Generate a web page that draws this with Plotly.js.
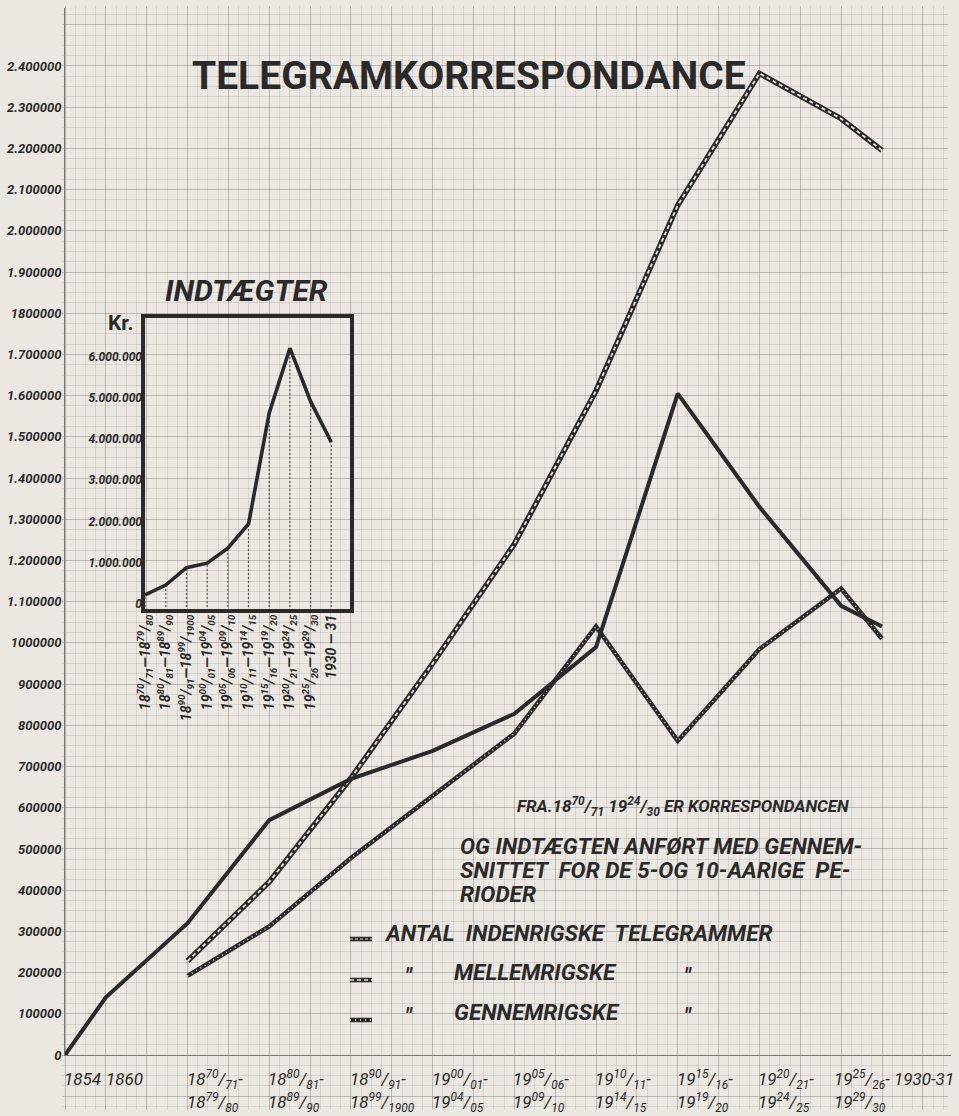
<!DOCTYPE html>
<html><head><meta charset="utf-8">
<script src="https://cdn.plot.ly/plotly-3.0.1.min.js"></script>
<style>html,body{margin:0;padding:0;background:#eae8e1;}</style>
</head><body><div id="chart" style="width:959px;height:1116px;"></div>
<script>
// ---------------- DATA ----------------
const periods = ['1854','1860','1870/71-1879/80','1880/81-1889/90','1890/91-1899/1900','1900/01-1904/05',
  '1905/06-1909/10','1910/11-1914/15','1915/16-1919/20','1920/21-1924/25','1925/26-1929/30','1930-31'];
const indenrigske  = [0, 140000, 320000, 570000, 670000, 738000, 828000, 990000, 1605000, 1330000, 1090000, 1040000];
const mellemrigske = [null, null, 228000, 420000, 672000, 950000, 1240000, 1612000, 2062000, 2382000, 2272000, 2195000];
const gennemrigske = [null, null, 192000, 312000, 478000, 630000, 780000, 1040000, 762000, 985000, 1132000, 1010000];

const xTickTop = ['1854','1860','18<sup>70</sup>/<sub>71</sub>-','18<sup>80</sup>/<sub>81</sub>-','18<sup>90</sup>/<sub>91</sub>-',
  '19<sup>00</sup>/<sub>01</sub>-','19<sup>05</sup>/<sub>06</sub>-','19<sup>10</sup>/<sub>11</sub>-','19<sup>15</sup>/<sub>16</sub>-',
  '19<sup>20</sup>/<sub>21</sub>-','19<sup>25</sup>/<sub>26</sub>-','1930-31'];
const xTickBottom = ['','','18<sup>79</sup>/<sub>80</sub>','18<sup>89</sup>/<sub>90</sub>','18<sup>99</sup>/<sub>1900</sub>',
  '19<sup>04</sup>/<sub>05</sub>','19<sup>09</sup>/<sub>10</sub>','19<sup>14</sup>/<sub>15</sub>','19<sup>19</sup>/<sub>20</sub>',
  '19<sup>24</sup>/<sub>25</sub>','19<sup>29</sup>/<sub>30</sub>',''];

const yTickVals = [0,100000,200000,300000,400000,500000,600000,700000,800000,900000,1000000,1100000,1200000,
  1300000,1400000,1500000,1600000,1700000,1800000,1900000,2000000,2100000,2200000,2300000,2400000];
const yTickText = ['0','100000','200000','300000','400000','500000','600000','700000','800000','900000','1000000',
  '1.100000','1.200000','1.300000','1.400000','1.500000','1.600000','1.700000','1800000','1.900000','2.000000',
  '2.100000','2.200000','2.300000','2.400000'];

const incomeLabels = ['18<sup>70</sup>/<sub>71</sub>—18<sup>79</sup>/<sub>80</sub>','18<sup>80</sup>/<sub>81</sub>—18<sup>89</sup>/<sub>90</sub>',
  '18<sup>90</sup>/<sub>91</sub>—18<sup>99</sup>/<sub>1900</sub>','19<sup>00</sup>/<sub>01</sub>—19<sup>04</sup>/<sub>05</sub>',
  '19<sup>05</sup>/<sub>06</sub>—19<sup>09</sup>/<sub>10</sub>','19<sup>10</sup>/<sub>11</sub>—19<sup>14</sup>/<sub>15</sub>',
  '19<sup>15</sup>/<sub>16</sub>—19<sup>19</sup>/<sub>20</sub>','19<sup>20</sup>/<sub>21</sub>—19<sup>24</sup>/<sub>25</sub>',
  '19<sup>25</sup>/<sub>26</sub>—19<sup>29</sup>/<sub>30</sub>','1930 — 31'];
const incomeKr = [220000, 460000, 880000, 990000, 1350000, 1940000, 4630000, 6200000, 4910000, 3920000];
const incomeTickVals = [0,1000000,2000000,3000000,4000000,5000000,6000000];
const incomeTickText = ['0','1.000.000','2.000.000','3.000.000','4.000.000','5.000.000','6.000.000'];

const noteLines = ['FRA.18<sup>70</sup>/<sub>71</sub> 19<sup>24</sup>/<sub>30</sub> ER KORRESPONDANCEN',
  'OG INDTÆGTEN ANFØRT MED GENNEM-','SNITTET  FOR DE 5-OG 10-AARIGE  PE-','RIODER'];
const legendNames = ['ANTAL  INDENRIGSKE  TELEGRAMMER','MELLEMRIGSKE','GENNEMRIGSKE'];

// ---------------- LAYOUT HELPERS ----------------
const W = 959, H = 1116;
const px = x => x / W;
const py = y => 1 - y / H;
const INK = '#2a2a2a', PAPER = '#eae8e1';
const HAND = 'Roboto, Liberation Sans, sans-serif';
// horizontal slot of each period on the main axis (1854 and 1930-31 are half steps)
const xSlot = [0, 0.5, 1.5, 2.5, 3.5, 4.5, 5.5, 6.5, 7.5, 8.5, 9.5, 10];
const UNIT_X = 81.7;          // px per period slot
const PX_PER_100K = 41.21;    // px per 100000 on main y axis
const plotL = 65, plotR = 951, plotT = 8, plotB = 1055;

const traces = [];
traces.push({x:[0], y:[0], xaxis:'x', yaxis:'y', mode:'markers', marker:{opacity:0}, hoverinfo:'skip', showlegend:false});

function addLine(vals, base, overlay){
  const xs = [], ys = [];
  vals.forEach((v,i)=>{ if(v!==null){ xs.push(xSlot[i]); ys.push(v);} });
  traces.push({x:xs, y:ys, xaxis:'x2', yaxis:'y2', mode:'lines', line:base, hoverinfo:'skip', showlegend:false});
  if(overlay) traces.push({x:xs, y:ys, xaxis:'x2', yaxis:'y2', mode:'lines', line:overlay, hoverinfo:'skip', showlegend:false});
}
addLine(gennemrigske, {color:INK, width:4.5}, {color:'#eeece6', width:1.4, dash:'1px,4px'});
addLine(mellemrigske, {color:INK, width:5.5}, {color:'#e6e4dd', width:1.8, dash:'4px,3px'});
addLine(indenrigske, {color:INK, width:4});

// inset: revenue
const incX = incomeKr.map((v,i)=>i);
const INC_MIN = -170000;
const vx = [], vy = [];
incomeKr.forEach((v,i)=>{ vx.push(i,i,null); vy.push(INC_MIN, v, null); });
traces.push({x:vx, y:vy, xaxis:'x3', yaxis:'y3', mode:'lines', line:{color:'#555', width:1.2, dash:'2px,2px'}, hoverinfo:'skip', showlegend:false});
traces.push({x:incX, y:incomeKr, xaxis:'x3', yaxis:'y3', mode:'lines', line:{color:INK, width:3.6}, hoverinfo:'skip', showlegend:false});

// ---------------- ANNOTATIONS ----------------
const ann = [];
ann.push({text:'TELEGRAMKORRESPONDANCE', xref:'paper', yref:'paper', x:px(469), y:py(76), showarrow:false,
  xanchor:'center', yanchor:'middle', font:{family:'Roboto, Liberation Sans, sans-serif', size:39, color:INK, weight:'bold'}});
ann.push({text:'INDTÆGTER', xref:'paper', yref:'paper', x:px(246), y:py(290), showarrow:false,
  xanchor:'center', yanchor:'middle', font:{family:HAND, size:30, color:INK, weight:'bold', style:'italic'}});
ann.push({text:'Kr.', xref:'paper', yref:'paper', x:px(136), y:py(323), showarrow:false,
  xanchor:'right', yanchor:'middle', font:{family:'Roboto, Liberation Sans, sans-serif', size:21, color:INK, weight:'bold'}});

const xShift = [-3,-2,-3,-3,-3,-3,-3,-3,-3,-3,-9,10];
xTickTop.forEach((t,i)=>{
  ann.push({text:t, xref:'x2', yref:'paper', x:xSlot[i], y:py(1079), xshift:xShift[i], showarrow:false,
    xanchor:'left', yanchor:'middle', font:{family:HAND, size:17, color:INK, style:'italic'}});
  if(xTickBottom[i]) ann.push({text:xTickBottom[i], xref:'x2', yref:'paper', x:xSlot[i], y:py(1102), xshift:xShift[i], showarrow:false,
    xanchor:'left', yanchor:'middle', font:{family:HAND, size:17, color:INK, style:'italic'}});
});

const noteX = [515, 458, 458, 458], noteY = [806, 846, 870, 894], noteSize = [17, 22.5, 22.5, 22.5];
noteLines.forEach((t,i)=>{
  ann.push({text:t, xref:'paper', yref:'paper', x:px(noteX[i]), y:py(noteY[i]), showarrow:false,
    xanchor:'left', yanchor:'middle', font:{family:HAND, size:noteSize[i], color:INK, weight:'bold', style:'italic'}});
});

const legY = [933, 972, 1012], legX = [382, 452, 452];
legendNames.forEach((t,i)=>{
  ann.push({text:t, xref:'paper', yref:'paper', x:px(legX[i]), y:py(legY[i]), showarrow:false,
    xanchor:'left', yanchor:'middle', font:{family:HAND, size:22.5, color:INK, weight:'bold', style:'italic'}});
  if(i>0){
    [409, 688].forEach(dx=>ann.push({text:'"', xref:'paper', yref:'paper', x:px(dx), y:py(legY[i]+4), showarrow:false,
      xanchor:'center', yanchor:'middle', font:{family:HAND, size:22, color:INK, weight:'bold', style:'italic'}}));
  }
});

// ---------------- SHAPES ----------------
const shapes = [];
shapes.push({type:'rect', xref:'paper', yref:'paper', x0:px(143), x1:px(352), y0:py(611), y1:py(316),
  line:{color:INK, width:4}, layer:'above'});
const sampleY = [939, 980, 1020];
const sampleOverlay = [{color:'#d8d6cf', width:1, dash:'3px,2px'}, {color:'#e6e4dd', width:1.6, dash:'4px,3px'}, {color:'#f2f0ea', width:1.4, dash:'1px,4px'}];
sampleY.forEach((y,i)=>{
  shapes.push({type:'line', xref:'paper', yref:'paper', x0:px(350), x1:px(372), y0:py(y), y1:py(y), line:{color:INK, width:4.5}});
  shapes.push({type:'line', xref:'paper', yref:'paper', x0:px(350), x1:px(372), y0:py(y), y1:py(y), line:sampleOverlay[i]});
});

// ---------------- LAYOUT ----------------
const gridL = 62, gridR = 948, gridT = 6, gridB = 1110;
const layout = {
  width: W, height: H,
  margin: {l:0, r:0, t:0, b:0, pad:0},
  paper_bgcolor: PAPER, plot_bgcolor: 'rgba(0,0,0,0)',
  showlegend: false,
  xaxis: {domain:[px(gridL), px(gridR)], range:[0, gridR-gridL], showticklabels:false, ticks:'', zeroline:false,
    tick0: plotL-gridL, dtick: UNIT_X/2, showgrid:true, gridcolor:'rgba(110,110,105,0.40)', gridwidth:1,
    minor:{tick0: plotL-gridL, dtick: UNIT_X/8, showgrid:true, gridcolor:'rgba(140,140,135,0.22)', gridwidth:1},
    fixedrange:true},
  yaxis: {domain:[py(gridB), py(gridT)], range:[0, gridB-gridT], showticklabels:false, ticks:'', zeroline:false,
    tick0: gridB-plotB, dtick: PX_PER_100K, showgrid:true, gridcolor:'rgba(110,110,105,0.40)', gridwidth:1,
    minor:{tick0: gridB-plotB, dtick: PX_PER_100K/4, showgrid:true, gridcolor:'rgba(140,140,135,0.22)', gridwidth:1},
    fixedrange:true},
  xaxis2: {domain:[px(plotL), px(plotR)], range:[0, (plotR-plotL)/UNIT_X], anchor:'y2', showticklabels:false,
    ticks:'', showgrid:false, zeroline:false, showline:true, linecolor:'#77766f', linewidth:1},
  yaxis2: {domain:[py(plotB), py(plotT)], range:[0, (plotB-plotT)/PX_PER_100K*100000], anchor:'x2',
    tickvals:yTickVals, ticktext:yTickText, ticks:'', showgrid:false, zeroline:false, showline:true,
    linecolor:'#77766f', linewidth:1,
    tickfont:{family:HAND, size:13, color:INK, weight:'bold', style:'italic'}},
  xaxis3: {domain:[px(143), px(352)], range:[-0.1, 10], anchor:'y3', tickvals:incX, ticktext:incomeLabels,
    tickangle:-90, ticks:'', showgrid:false, zeroline:false, showline:false,
    tickfont:{family:HAND, size:14, color:INK, weight:'bold', style:'italic'}},
  yaxis3: {domain:[py(611), py(316)], range:[INC_MIN, 6980000], anchor:'x3', tickvals:incomeTickVals,
    ticktext:incomeTickText, ticks:'', showgrid:false, zeroline:false, showline:false,
    tickfont:{family:HAND, size:12, color:INK, weight:'bold', style:'italic'}},
  annotations: ann,
  shapes: shapes
};
Plotly.newPlot('chart', traces, layout, {staticPlot:true, displayModeBar:false});
</script></body></html>
